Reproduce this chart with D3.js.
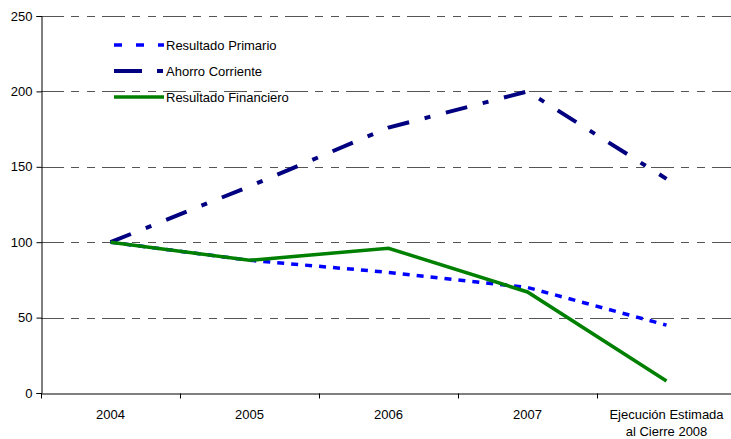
<!DOCTYPE html>
<html>
<head>
<meta charset="utf-8">
<script src="https://cdn.jsdelivr.net/npm/d3@7"></script>
<style>
  body { margin: 0; background: #fff; }
  text { font-family: Arial, "Liberation Sans", sans-serif; }
</style>
</head>
<body>
<svg id="chart" width="731" height="439"></svg>
<script>
var categories = ["2004", "2005", "2006", "2007", "Ejecución Estimada|al Cierre 2008"];
var primario = [100, 88, 80, 70, 45];
var ahorro = [100, 137, 176, 200, 142];
var financiero = [100, 88, 96, 67, 8];
var yTicks = [0, 50, 100, 150, 200, 250];

var svg = d3.select("#chart");
var margin = { top: 16, right: -5, bottom: 46, left: 41 },
  width = 731 - margin.left - margin.right,
  height = 439 - margin.top - margin.bottom;

var g = svg.append("g")
  .attr("transform", "translate(" + margin.left + "," + margin.top + ")");

var xScale = d3.scaleBand().domain(categories).range([0, width]);
var yScale = d3.scaleLinear().domain([0, 250]).range([height, 0]);

// gridlines
g.selectAll(".grid")
  .data(yTicks.filter(function (d) { return d > 0; }))
  .enter()
  .append("line")
  .attr("x1", 0)
  .attr("x2", width)
  .attr("y1", function (d) { return Math.round(yScale(d)) + 0.5; })
  .attr("y2", function (d) { return Math.round(yScale(d)) + 0.5; })
  .attr("stroke", "#555")
  .attr("stroke-width", 1)
  .attr("stroke-dasharray", "23,7,8,8,8,7");

// y axis
var yAxis = g.append("g")
  .attr("transform", "translate(0.5,0)")
  .call(d3.axisLeft(yScale).tickValues(yTicks).tickSize(5).tickPadding(4));
yAxis.select(".domain").attr("stroke", "#000");
yAxis.selectAll(".tick line").attr("stroke", "#000");
yAxis.selectAll(".tick text").attr("font-size", 13).attr("fill", "#000")
  .style("font-family", "Arial, 'Liberation Sans', sans-serif");

// x axis
var xAxis = g.append("g")
  .attr("transform", "translate(0," + (Math.round(height) + 0.5) + ")")
  .call(d3.axisBottom(xScale).tickSize(0).tickFormat(""));
xAxis.select(".domain").attr("stroke", "#000");
xAxis.selectAll(".sep")
  .data(categories)
  .enter()
  .append("line")
  .attr("x1", function (d) { return Math.round(xScale(d)) + 0.5; })
  .attr("x2", function (d) { return Math.round(xScale(d)) + 0.5; })
  .attr("y1", 0)
  .attr("y2", 5)
  .attr("stroke", "#000");
xAxis.selectAll(".lbl")
  .data(categories)
  .enter()
  .append("text")
  .attr("text-anchor", "middle")
  .attr("font-size", 13)
  .attr("fill", "#000")
  .attr("x", function (d) { return xScale(d) + xScale.bandwidth() / 2; })
  .attr("y", 25)
  .each(function (d) {
    var parts = d.split("|");
    var t = d3.select(this);
    parts.forEach(function (p, i) {
      t.append("tspan")
        .attr("x", xScale(d) + xScale.bandwidth() / 2)
        .attr("dy", i === 0 ? 0 : 17)
        .text(p);
    });
  });

var line = d3.line()
  .x(function (d, i) { return xScale(categories[i]) + xScale.bandwidth() / 2; })
  .y(function (d) { return yScale(d); });

var series = [
  { name: "Resultado Primario", values: primario, color: "#0000ff", width: 3.5, dash: "7,7" },
  { name: "Ahorro Corriente", values: ahorro, color: "#000080", width: 4, dash: "22,16,6,16" },
  { name: "Resultado Financiero", values: financiero, color: "#008000", width: 3.5, dash: null }
];

series.forEach(function (s) {
  g.append("path")
    .datum(s.values)
    .attr("fill", "none")
    .attr("stroke", s.color)
    .attr("stroke-width", s.width)
    .attr("stroke-dasharray", s.dash)
    .attr("d", line);
});

// legend
var legend = svg.append("g").attr("transform", "translate(114,45)");
series.forEach(function (s, i) {
  var row = legend.append("g").attr("transform", "translate(0," + i * 26 + ")");
  row.append("line")
    .attr("x1", 0)
    .attr("x2", 50)
    .attr("y1", 0)
    .attr("y2", 0)
    .attr("stroke", s.color)
    .attr("stroke-width", s.width)
    .attr("stroke-dasharray", i === 0 ? "8,14" : i === 1 ? "28,15,6" : null);
  row.append("text")
    .attr("x", 52)
    .attr("y", 5)
    .attr("font-size", 13)
    .attr("fill", "#000")
    .text(s.name);
});
</script>
</body>
</html>
